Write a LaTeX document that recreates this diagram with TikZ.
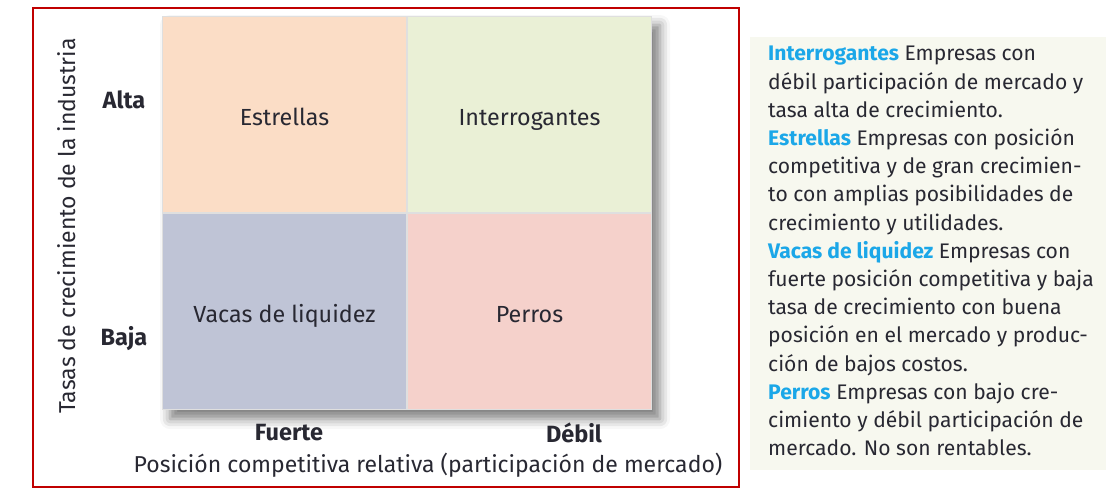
\documentclass[tikz,border=0pt]{standalone}
\usepackage{fontspec}
\setmainfont{Fira Sans}
\usetikzlibrary{positioning,backgrounds,shadows.blur}

\begin{document}
\begin{tikzpicture}[x=1pt, y=-1pt]
  % Colours of the matrix and the side panel
  \definecolor{cStar}{RGB}{251, 221, 198}   % peach
  \definecolor{cQuest}{RGB}{234, 240, 214}  % pale green
  \definecolor{cCash}{RGB}{191, 196, 214}   % grey blue
  \definecolor{cDog}{RGB}{245, 209, 203}    % pink
  \definecolor{cFrame}{RGB}{192, 0, 0}
  \definecolor{cPanel}{RGB}{247, 248, 239}
  \definecolor{cKey}{RGB}{27, 167, 232}
  \definecolor{cInk}{RGB}{40, 40, 50}

  \tikzset{
    quad/.style={draw=gray!25, line width=1pt, minimum width=244pt, minimum height=196pt,
                 inner sep=0pt, text=cInk, text height=22pt, text depth=0pt,
                 font=\fontsize{23.3}{26}\selectfont},
    axis/.style={text=cInk, font=\fontsize{23}{26}\selectfont},
    level/.style={text=cInk, font=\fontsize{23.5}{26}\selectfont\bfseries}
  }

  % Fixed canvas
  \useasboundingbox (0,0) rectangle (1109,493);

  % Red frame round the matrix
  \draw[cFrame, line width=2pt] (33,8) rectangle (739,487);

  % The four quadrants
  \node[quad, fill=cStar, anchor=north west] (estrellas) at (162,16) {Estrellas};
  \node[quad, fill=cQuest, right=0pt of estrellas] (interrog) {Interrogantes};
  \node[quad, fill=cCash, below=0pt of estrellas] (vacas) {Vacas de liquidez};
  \node[quad, fill=cDog, right=0pt of vacas] (perros) {Perros};

  % Soft shadow behind the whole matrix
  \begin{scope}[on background layer]
    \path[fill=white, blur shadow={shadow xshift=8pt, shadow yshift=-9pt,
          shadow blur radius=10pt, shadow opacity=50}]
      (estrellas.north west) rectangle (perros.south east);
  \end{scope}

  % Levels of growth and position
  \node[level] (alta) at (124,100) {Alta};
  \node[level] (baja) at (124,339) {Baja};
  \node[level] (fuerte) at (289,433) {Fuerte};
  \node[level] (debil) at (574,433) {Débil};

  % Axis titles
  \node[axis, rotate=90] (ejey) at (67,226) {Tasas de crecimiento de la industria};
  \node[axis] (ejex) at (428,465) {Posición competitiva relativa (participación de mercado)};

  % Side panel with the key
  \fill[cPanel] (750,37) rectangle (1106,470);
  \node[anchor=north west, align=left, inner sep=0pt, text=cInk,
        font=\fontsize{21.1}{28.2}\selectfont] (clave) at (768,46) {%
    \textcolor{cKey}{\bfseries Interrogantes} Empresas con\\
    débil participación de mercado y\\
    tasa alta de crecimiento.\\
    \textcolor{cKey}{\bfseries Estrellas} Empresas con posición\\
    competitiva y de gran crecimien-\\
    to con amplias posibilidades de\\
    crecimiento y utilidades.\\
    \textcolor{cKey}{\bfseries Vacas de liquidez} Empresas con\\
    fuerte posición competitiva y baja\\
    tasa de crecimiento con buena\\
    posición en el mercado y produc-\\
    ción de bajos costos.\\
    \textcolor{cKey}{\bfseries Perros} Empresas con bajo cre-\\
    cimiento y débil participación de\\
    mercado. No son rentables.};

\end{tikzpicture}
\end{document}
